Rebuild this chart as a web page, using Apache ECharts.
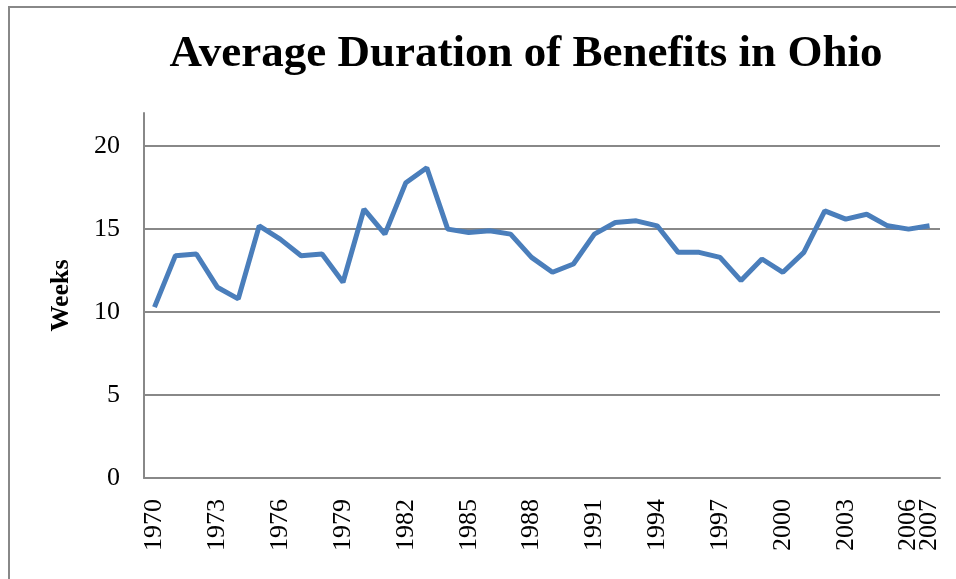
<!DOCTYPE html>
<html>
<head>
    <meta charset="utf-8">
    <title>Average Duration of Benefits in Ohio</title>
    <script src="https://cdn.jsdelivr.net/npm/echarts@6/dist/echarts.min.js"></script>
    <style>
        html, body { margin: 0; padding: 0; background: #fff; }
    </style>
</head>
<body>
    <div id="main" style="width: 956px;height:579px;"></div>
    <script type="text/javascript">
        // years on the category axis
        var years = [];
        for (var y = 1970; y <= 2007; y++) years.push(String(y));

        // average weeks of benefits
        var weeks = [
            10.3, 13.4, 13.5, 11.5, 10.8, 15.2, 14.4, 13.4, 13.5, 11.8,
            16.2, 14.7, 17.8, 18.7, 15.0, 14.8, 14.9, 14.7, 13.3, 12.4,
            12.9, 14.7, 15.4, 15.5, 15.2, 13.6, 13.6, 13.3, 11.9, 13.2,
            12.4, 13.6, 16.1, 15.6, 15.9, 15.2, 15.0, 15.2
        ];

        var serif = '"Liberation Serif", "DejaVu Serif", serif';
        var myChart = echarts.init(document.getElementById('main'));

        var yearLabel = {
            rotate: 90,
            margin: 21,
            fontFamily: serif,
            fontSize: 26,
            color: '#000'
        };

        var option = {
            backgroundColor: '#fff',
            animation: false,
            title: {
                text: 'Average Duration of Benefits in Ohio',
                left: 521,
                top: 27,
                textAlign: 'center',
                textStyle: {
                    fontFamily: serif,
                    fontWeight: 'bold',
                    fontSize: 45,
                    color: '#000'
                }
            },
            graphic: [{
                type: 'rect',
                shape: { x: 9, y: 7, width: 1000, height: 700 },
                style: { fill: 'none', stroke: '#888', lineWidth: 2 },
                silent: true
            }],
            grid: {
                left: 144,
                right: 16,
                top: 113,
                bottom: 101
            },
            xAxis: [{
                // every third year
                type: 'category',
                data: years,
                boundaryGap: true,
                axisLine: { lineStyle: { color: '#888', width: 2 } },
                axisTick: { show: false },
                axisLabel: Object.assign({}, yearLabel, {
                    showMinLabel: true,
                    showMaxLabel: true,
                    interval: function (index) { return index % 3 === 0; }
                })
            }, {
                // last year, on its own axis so it is not dropped for overlap
                type: 'category',
                position: 'bottom',
                data: years,
                boundaryGap: true,
                axisLine: { show: false },
                axisTick: { show: false },
                splitLine: { show: false },
                axisLabel: Object.assign({}, yearLabel, {
                    interval: function (index) { return index === years.length - 1; }
                })
            }],
            yAxis: {
                type: 'value',
                min: 0,
                max: 22,
                interval: 5,
                name: 'Weeks',
                nameLocation: 'middle',
                nameGap: 70,
                nameRotate: 90,
                nameTextStyle: {
                    fontFamily: serif,
                    fontWeight: 'bold',
                    fontSize: 26,
                    color: '#000'
                },
                axisLine: { show: true, lineStyle: { color: '#888', width: 2 } },
                axisTick: { show: false },
                axisLabel: {
                    margin: 24,
                    showMaxLabel: false,
                    fontFamily: serif,
                    fontSize: 26,
                    color: '#000'
                },
                splitLine: {
                    show: true,
                    showMaxLine: false,
                    lineStyle: { color: '#888', width: 2 }
                }
            },
            series: [{
                name: 'Weeks',
                type: 'line',
                data: weeks,
                showSymbol: false,
                symbol: 'none',
                lineStyle: { color: '#4a7ebb', width: 5 },
                itemStyle: { color: '#4a7ebb' }
            }]
        };

        myChart.setOption(option);
    </script>
</body>
</html>
